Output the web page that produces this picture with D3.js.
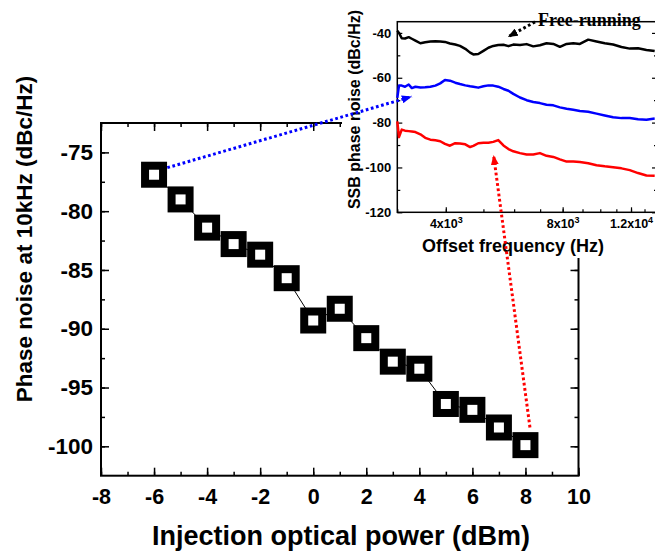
<!DOCTYPE html>
<html>
<head>
<meta charset="utf-8">
<script src="https://cdn.jsdelivr.net/npm/d3@7/dist/d3.min.js"></script>
<style>
  body { margin: 0; background: #fff; }
</style>
</head>
<body>
<svg width="655" height="554"></svg>
<script>
// hoofdgrafiek: fasenoise bij 10 kHz tegen injectievermogen
const powers = [-6, -5, -4, -3, -2, -1, 0, 1, 2, 3, 4, 5, 6, 7, 8];
const phaseNoise = [-76.9, -79.0, -81.4, -82.8, -83.7, -85.7, -89.3, -88.3, -90.8, -92.8, -93.4, -96.4, -96.9, -98.4, -99.9];
const xTicks = [-8, -6, -4, -2, 0, 2, 4, 6, 8, 10];
const yTicks = [-75, -80, -85, -90, -95, -100];

// inzet: SSB fasenoise spectra
const freqs = [3000, 3030, 3080, 3140, 3210, 3270, 3340, 3440, 3540, 3650, 3760, 3870, 3980, 4100, 4230, 4350,
  4490, 4620, 4710, 4850, 5000, 5150, 5300, 5460, 5630, 5800, 5970, 6210, 6460, 6720, 6990, 7270, 7570, 7870,
  8190, 8520, 8860, 9310, 9780, 10270, 10790, 11340, 11910, 12510, 13150, 13810];
const freeRunning = [-39.0, -40.0, -42.4, -42.5, -41.9, -42.6, -43.4, -44.6, -44.2, -43.8, -43.7, -43.8, -44.0, -44.7,
  -45.2, -45.8, -47.1, -48.8, -49.6, -49.4, -48.0, -46.6, -45.8, -45.4, -45.3, -45.9, -45.2, -45.4, -45.0, -46.0,
  -45.5, -44.6, -44.9, -46.2, -44.9, -44.6, -44.9, -43.0, -43.8, -44.6, -45.2, -46.3, -47.0, -46.8, -47.6, -48.1];
const lockedLow = [-69.0, -63.5, -63.5, -64.0, -63.0, -64.6, -64.0, -64.3, -64.2, -64.0, -63.5, -62.5, -61.0, -61.3,
  -62.2, -62.8, -63.4, -63.8, -64.0, -64.4, -63.8, -63.4, -63.5, -64.0, -65.0, -65.8, -67.2, -68.8, -70.0, -70.8,
  -71.3, -72.0, -72.3, -73.2, -73.8, -74.3, -74.8, -75.2, -76.0, -76.8, -77.6, -78.0, -77.9, -78.5, -78.7, -78.2];
const lockedHigh = [-79.5, -86.5, -83.1, -83.6, -83.8, -84.0, -84.2, -85.2, -86.8, -87.6, -87.9, -88.3, -89.5, -90.3,
  -89.2, -89.3, -89.7, -90.9, -90.4, -89.2, -89.0, -89.0, -88.6, -87.8, -90.2, -91.8, -92.8, -93.6, -94.2, -94.2,
  -93.6, -94.8, -95.3, -96.4, -97.4, -97.3, -97.6, -98.1, -99.0, -99.5, -99.9, -100.4, -101.2, -102.5, -103.6, -103.7];
const insetXTicks = [4000, 8000, 12000];
const insetYTicks = [-40, -60, -80, -100, -120];

const svg = d3.select("svg");
const sans = "'Liberation Sans', Arial, sans-serif";

// ---------- hoofdgrafiek ----------
const x = d3.scaleLinear().domain([-8, 10]).range([101, 578.5]);
const y = d3.scaleLinear().domain([-102.5, -72.5]).range([475.7, 123]);

const main = svg.append("g");

const minorX = d3.range(-8, 10.01, 1);
const minorY = d3.range(-100, -72.5, 2.5);

// kleine streepjes aan alle vier de kanten
main.append("g").attr("transform", `translate(0,${y.range()[0]})`)
  .call(d3.axisBottom(x).tickValues(minorX).tickSize(-4).tickSizeOuter(0).tickFormat(""));
main.append("g").attr("transform", `translate(0,${y.range()[1]})`)
  .call(d3.axisTop(x).tickValues(minorX).tickSize(-4).tickSizeOuter(0).tickFormat(""));
main.append("g").attr("transform", `translate(${x.range()[0]},0)`)
  .call(d3.axisLeft(y).tickValues(minorY).tickSize(-4).tickSizeOuter(0).tickFormat(""));
main.append("g").attr("transform", `translate(${x.range()[1]},0)`)
  .call(d3.axisRight(y).tickValues(minorY).tickSize(-4).tickSizeOuter(0).tickFormat(""));

const xAxis = main.append("g").attr("transform", `translate(0,${y.range()[0]})`)
  .call(d3.axisBottom(x).tickValues(xTicks).tickSize(-8).tickSizeOuter(0).tickPadding(13).tickFormat(d => String(d)));
const yAxis = main.append("g").attr("transform", `translate(${x.range()[0]},0)`)
  .call(d3.axisLeft(y).tickValues(yTicks).tickSize(-8).tickSizeOuter(0).tickPadding(8).tickFormat(d => String(d)));
main.append("g").attr("transform", `translate(0,${y.range()[1]})`)
  .call(d3.axisTop(x).tickValues(xTicks).tickSize(-8).tickSizeOuter(0).tickFormat(""));
main.append("g").attr("transform", `translate(${x.range()[1]},0)`)
  .call(d3.axisRight(y).tickValues(yTicks).tickSize(-8).tickSizeOuter(0).tickFormat(""));

main.selectAll(".tick line").attr("stroke-width", 1.5);
main.selectAll(".domain").remove();
xAxis.selectAll("text").attr("font-size", 21.5);
yAxis.selectAll("text").attr("font-size", 22.5);

main.append("rect")
  .attr("x", x.range()[0]).attr("y", y.range()[1])
  .attr("width", x.range()[1] - x.range()[0]).attr("height", y.range()[0] - y.range()[1])
  .attr("fill", "none").attr("stroke", "#000").attr("stroke-width", 2);

const pts = powers.map((p, i) => ({ p: p, v: phaseNoise[i] }));

main.append("path")
  .datum(pts)
  .attr("fill", "none").attr("stroke", "#000").attr("stroke-width", 1)
  .attr("d", d3.line().x(d => x(d.p)).y(d => y(d.v)));

main.selectAll("rect.pt")
  .data(pts)
  .enter()
  .append("rect")
  .attr("class", "pt")
  .attr("x", d => x(d.p) - 9).attr("y", d => y(d.v) - 9)
  .attr("width", 18).attr("height", 18)
  .attr("fill", "#fff").attr("stroke", "#000").attr("stroke-width", 8);

main.append("text")
  .attr("x", 341).attr("y", 545)
  .attr("text-anchor", "middle").attr("font-size", 27)
  .text("Injection optical power (dBm)");

main.append("text")
  .attr("transform", "translate(32,239) rotate(-90)")
  .attr("text-anchor", "middle").attr("font-size", 22.5)
  .text("Phase noise at 10kHz (dBc/Hz)");

// ---------- inzet ----------
const xi = d3.scaleLog().domain([3000, 14000]).range([397.3, 657]);
const yi = d3.scaleLinear().domain([-120, -35]).range([212.3, 21.7]);

const inset = svg.append("g");
inset.append("rect").attr("x", 342).attr("y", 0).attr("width", 313).attr("height", 258).attr("fill", "#fff");

const insetMinorX = d3.range(3000, 14001, 1000);
const insetMinorY = d3.range(-110, -35, 20);

inset.append("g").attr("transform", `translate(0,${yi.range()[0]})`)
  .call(d3.axisBottom(xi).tickValues(insetMinorX).tickSize(-3).tickSizeOuter(0).tickFormat(""));
inset.append("g").attr("transform", `translate(${xi.range()[0]},0)`)
  .call(d3.axisLeft(yi).tickValues(insetMinorY).tickSize(-3).tickSizeOuter(0).tickFormat(""));
inset.append("g").attr("transform", `translate(${xi.range()[1]},0)`)
  .call(d3.axisRight(yi).tickValues(insetMinorY).tickSize(-3).tickSizeOuter(0).tickFormat(""));

const xiAxis = inset.append("g").attr("transform", `translate(0,${yi.range()[0]})`)
  .call(d3.axisBottom(xi).tickValues(insetXTicks).tickSize(-5).tickSizeOuter(0).tickPadding(6).tickFormat(""));
const yiAxis = inset.append("g").attr("transform", `translate(${xi.range()[0]},0)`)
  .call(d3.axisLeft(yi).tickValues(insetYTicks).tickSize(-5).tickSizeOuter(0).tickPadding(6).tickFormat(d => String(d)));
inset.append("g").attr("transform", `translate(${xi.range()[1]},0)`)
  .call(d3.axisRight(yi).tickValues(insetYTicks).tickSize(-5).tickSizeOuter(0).tickFormat(""));

inset.selectAll(".tick line").attr("stroke-width", 1.2);
inset.selectAll(".domain").remove();
yiAxis.selectAll("text").attr("font-size", 13);

// labels als 4x10^3 met superscript
xiAxis.selectAll(".tick").each(function (d) {
  const e = Math.floor(Math.log10(d));
  const m = d / Math.pow(10, e);
  const t = d3.select(this).append("text")
    .attr("y", 16).attr("fill", "#000").attr("font-size", 12.5).attr("text-anchor", "middle");
  t.append("tspan").text(m + "x10");
  t.append("tspan").attr("dy", -5).attr("font-size", 9).text(e);
});

inset.append("rect")
  .attr("x", xi.range()[0]).attr("y", yi.range()[1])
  .attr("width", xi.range()[1] - xi.range()[0]).attr("height", yi.range()[0] - yi.range()[1])
  .attr("fill", "none").attr("stroke", "#000").attr("stroke-width", 1.5);

const series = [
  { values: freeRunning, color: "#000" },
  { values: lockedLow, color: "#0000ff" },
  { values: lockedHigh, color: "#ff0000" }
];

const lineI = d3.line().x(d => xi(d[0])).y(d => yi(d[1]));
inset.selectAll("path.curve")
  .data(series)
  .enter()
  .append("path")
  .attr("class", "curve")
  .attr("fill", "none")
  .attr("stroke", d => d.color)
  .attr("stroke-width", 2.5)
  .attr("stroke-linejoin", "round")
  .attr("d", d => lineI(freqs.map((f, i) => [f, d.values[i]])));

inset.append("text")
  .attr("x", 513).attr("y", 252)
  .attr("text-anchor", "middle").attr("font-size", 18)
  .text("Offset frequency (Hz)");

inset.append("text")
  .attr("transform", "translate(360,109.5) rotate(-90)")
  .attr("text-anchor", "middle").attr("font-size", 16)
  .text("SSB phase noise (dBc/Hz)");

// alle teksten vet, zwart, Arial-achtig
svg.selectAll("text")
  .style("font-family", sans)
  .style("font-weight", "bold")
  .attr("fill", "#000");

inset.append("text")
  .attr("x", 538).attr("y", 26)
  .style("font-family", "'Liberation Serif', 'Times New Roman', serif")
  .style("font-weight", "bold")
  .attr("font-size", 18)
  .text("Free-running");

// ---------- pijlen ----------
const defs = svg.append("defs");
["#000", "#0000ff", "#ff0000"].forEach((c, i) => {
  defs.append("marker")
    .attr("id", "arrow" + i)
    .attr("viewBox", "0 0 10 8")
    .attr("refX", 10).attr("refY", 4)
    .attr("markerUnits", "userSpaceOnUse")
    .attr("markerWidth", 10).attr("markerHeight", 8)
    .attr("orient", "auto")
    .append("path").attr("d", "M0,0 L10,4 L0,8 Z").attr("fill", c);
});

const arrowPts = [
  { from: [xi(6790), yi(-35.1)], to: [xi(5780), yi(-41.8)], color: "#000", m: 0 },
  { from: [x(-5.5), y(-76.3)], to: [xi(3270), yi(-68.4)], color: "#0000ff", m: 1 },
  { from: [x(8.17), y(-98.4)], to: [xi(5310), yi(-94.4)], color: "#ff0000", m: 2 }
];

svg.selectAll("line.arrow")
  .data(arrowPts)
  .enter()
  .append("line")
  .attr("class", "arrow")
  .attr("x1", d => d.from[0]).attr("y1", d => d.from[1])
  .attr("x2", d => d.to[0]).attr("y2", d => d.to[1])
  .attr("stroke", d => d.color)
  .attr("stroke-width", 3)
  .attr("stroke-dasharray", "2.7 2.6")
  .attr("marker-end", d => `url(#arrow${d.m})`);
</script>
</body>
</html>
